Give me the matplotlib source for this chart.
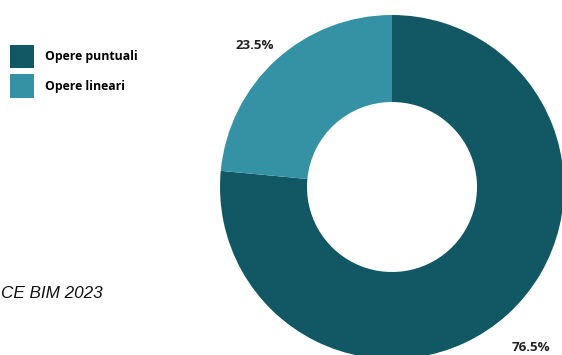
import matplotlib.pyplot as plt
from matplotlib.patches import Patch

categories = ['Opere puntuali', 'Opere lineari']
shares = [76.5, 23.5]
colors = ['#115864', '#3592a5']
source_text = 'CE BIM 2023'

W, H = 562, 355
fig = plt.figure(figsize=(W / 100, H / 100), dpi=100)
ax = fig.add_axes([0, 0, 1, 1])

wedges, texts, autotexts = ax.pie(
    shares, colors=colors, center=(392, H - 187), radius=172,
    startangle=90, counterclock=False,
    wedgeprops=dict(width=87, linewidth=0),
    autopct='%.1f%%', pctdistance=1.17,
    textprops=dict(fontsize=9.6, fontweight='bold', color='#222222',
                   family=['Open Sans', 'DejaVu Sans']))

# nudge the percentage labels a little outward/down
offsets = [(4, -12), (-2, -7)]
for t, (dx, dy) in zip(autotexts, offsets):
    x, y = t.get_position()
    t.set_position((x + dx, y + dy))

ax.set_xlim(0, W)
ax.set_ylim(0, H)
ax.set_aspect('equal')
ax.axis('off')

handles = [Patch(facecolor=c, edgecolor='none') for c in colors]
leg = fig.legend(handles, categories, loc='upper left', bbox_to_anchor=(-0.002, 0.905),
                 frameon=False, handlelength=2.0, handleheight=2.6, handletextpad=0.9,
                 labelspacing=0.5,
                 prop=dict(family=['Open Sans', 'DejaVu Sans'], weight='bold', size=8.8))

fig.text(103 / W, 1 - 298 / H, source_text, ha='right', va='baseline',
         fontsize=12.3, style='italic', family=['Liberation Sans', 'DejaVu Sans'],
         color='#111111')

fig.savefig('out.png', dpi=100)
